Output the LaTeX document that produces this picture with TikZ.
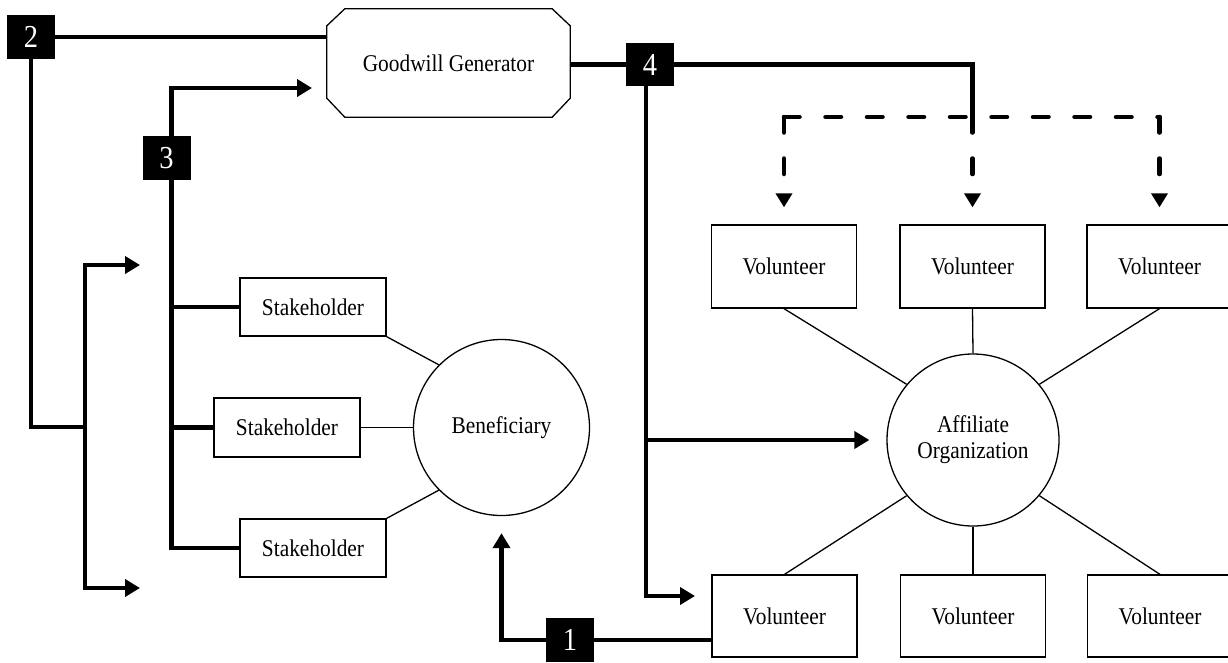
\documentclass[tikz,border=0pt]{standalone}
\usepackage{fontspec}
\setmainfont{Liberation Serif}[FakeStretch=0.89]
\usetikzlibrary{arrows.meta}
\begin{document}
\begin{tikzpicture}[x=1pt,y=-1pt,
  thk/.style={line width=4.3pt},
  thn/.style={line width=1.3pt},
  arr/.style={-{Triangle[length=15pt,width=17pt]}},
  dsh/.style={line width=4.5pt, line cap=round, dash pattern=on 15.5pt off 26pt},
  darr/.style={-{Triangle[length=14pt,width=16pt]}},
  numbox/.style={fill=black, text=white, minimum width=48pt, minimum height=44pt,
    inner sep=0pt, font=\fontsize{32}{32}\selectfont},
  box/.style={draw, thn, inner sep=0pt, font=\fontsize{24}{26}\selectfont},
  stake/.style={box, minimum width=146pt, minimum height=58pt},
  vol/.style={box, minimum width=145pt, minimum height=83pt},
  hub/.style={draw, thn, circle, inner sep=0pt, align=center,
    font=\fontsize{24}{26}\selectfont},
]
\fill[white] (0,0) rectangle (1228,662);
\useasboundingbox (0,0) rectangle (1228,662);

% numbered markers
\node[numbox] (n2) at (31,37) {2};
\node[numbox, minimum height=43pt] (n4) at (650,64.5) {4};
\node[numbox] (n3) at (166.5,158) {3};
\node[numbox] (n1) at (570,640) {1};

% goodwill generator (octagon drawn around an empty frame node)
\node[minimum width=243pt, minimum height=108pt, inner sep=0pt,
  font=\fontsize{24}{26}\selectfont] (gg) at (448.5,63) {Goodwill Generator};
\draw[thn] ([xshift=18pt]gg.north west) -- ([xshift=-18pt]gg.north east)
  -- ([yshift=-17pt]gg.north east) -- ([yshift=19pt]gg.south east)
  -- ([xshift=-18pt]gg.south east) -- ([xshift=18pt]gg.south west)
  -- ([yshift=19pt]gg.south west) -- ([yshift=-17pt]gg.north west) -- cycle;

% stakeholders and beneficiary
\node[stake] (s1) at (313,307) {Stakeholder};
\node[stake, minimum height=59pt] (s2) at (287,427.5) {Stakeholder};
\node[stake] (s3) at (313,548) {Stakeholder};
\node[hub, minimum size=176pt] (ben) at (501.5,427.5) {Beneficiary};

% affiliate organization and volunteers
\node[hub, minimum size=172pt] (aff) at (973,440) {Affiliate\\Organization};
\node[vol] (v1) at (784,266.5) {Volunteer};
\node[vol] (v2) at (972.5,266.5) {Volunteer};
\node[vol] (v3) at (1159.5,266.5) {Volunteer};
\node[vol, minimum height=82pt] (v4) at (784.5,616) {Volunteer};
\node[vol, minimum height=82pt] (v5) at (973,616) {Volunteer};
\node[vol, minimum height=82pt] (v6) at (1160,616) {Volunteer};

% free ends and bends
\coordinate (fork) at (85,427);
\coordinate (fkTop) at (140,265);
\coordinate (fkBot) at (140,588);
\coordinate (a3) at (312,88);
\coordinate (a4) at (695,596);
\coordinate (dL) at (784,117);
\coordinate (dM) at (972.5,117);
\coordinate (dR) at (1159.5,117);
\coordinate (t3) at ([xshift=5pt]n3.south);
\coordinate (t4) at ([xshift=-4pt]n4.south);

% path 2
\draw[thk] (n2.east) -- (n2.east -| gg.west);
\draw[thk] (n2.south) |- (fork);
\draw[thk,arr] (fork) |- (fkTop);
\draw[thk,arr] (fork) |- (fkBot);

% path 3
\draw[thk,arr] ([xshift=5pt]n3.north) |- (a3);
\draw[thk] (t3) |- (s3.west);
\draw[thk] (t3 |- s1.west) -- (s1.west);
\draw[thk] (t3 |- s2.west) -- (s2.west);

% stakeholder links
\draw[thn] (s1.south east) -- (ben.135);
\draw[thn] (s2.east) -- (ben.west);
\draw[thn] (s3.north east) -- (ben.225);

% path 1
\draw[thk] (n1.east) -- (n1.east -| v4.west);
\draw[thk,arr,shorten >=17pt] (n1.west) -| (ben.south);

% path 4
\draw[thk] (gg.east |- n4.west) -- (n4.west);
\draw[thk] (n4.east) -| (dM);
\draw[thk,arr] (t4) |- (a4);
\draw[thk,arr,shorten >=17pt] (t4 |- aff.west) -- (aff.west);

% dashed distribution to the volunteers
\draw[dsh] (dL) -- (dR);
\draw[dsh,darr,shorten >=17pt] (dL) -- (v1.north);
\draw[dsh,darr,shorten >=17pt] (dM) -- (v2.north);
\draw[dsh,darr,shorten >=17pt] (dR) -- (v3.north);

% volunteer links
\draw[thn] (v1.south) -- (aff.140);
\draw[thn] (v2.south) -- (aff.north);
\draw[thn] (v3.south) -- (aff.40);
\draw[thn] (v4.north) -- (aff.220);
\draw[thn] (v5.north) -- (aff.south);
\draw[thn] (v6.north) -- (aff.320);
\end{tikzpicture}
\end{document}
